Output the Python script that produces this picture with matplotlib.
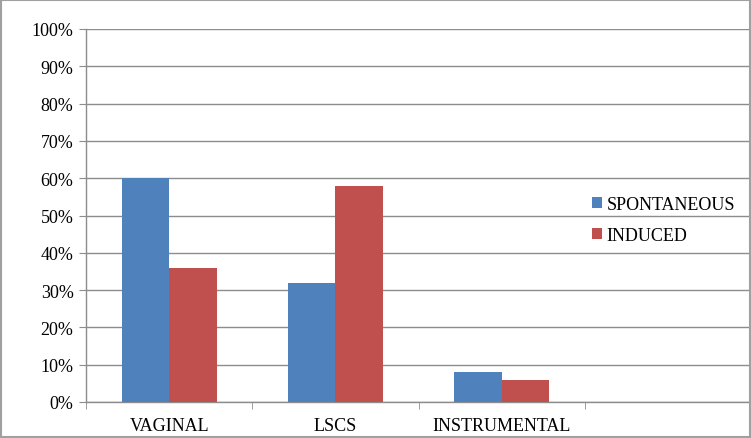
import matplotlib
matplotlib.use("Agg")
import matplotlib.pyplot as plt
from matplotlib.patches import Rectangle
import numpy as np

categories = ["VAGINAL", "LSCS", "INSTRUMENTAL"]
spontaneous = [60, 32, 8]
induced = [36, 58, 6]
series_names = ["SPONTANEOUS", "INDUCED"]
y_ticks = [0, 10, 20, 30, 40, 50, 60, 70, 80, 90, 100]

plt.rcParams['font.family'] = ['Liberation Serif', 'DejaVu Serif']

fig = plt.figure(figsize=(7.51, 4.39), dpi=100)
ax = fig.add_axes([86/751, 1-403/439, 1-86/751, (403-30)/439])

blue = "#4F81BD"
red = "#C0504D"
grid_c = "#8C8C8C"
fs = 13

x = np.arange(len(categories))
w = 0.2857
ax.bar(x - w/2, spontaneous, w, color=blue, label=series_names[0], zorder=3)
ax.bar(x + w/2, induced, w, color=red, label=series_names[1], zorder=3)

ax.set_xlim(-0.5, 3.5)
ax.set_ylim(0, 100)
ax.set_yticks(y_ticks)
ax.set_yticklabels([f"{v}%" for v in y_ticks], fontsize=fs)
ax.yaxis.grid(True, color=grid_c, linewidth=1.0, zorder=0)
ax.set_axisbelow(True)

ax.set_xticks(x)
ax.set_xticklabels(categories, fontsize=fs)
ax.tick_params(axis='x', which='major', length=0, pad=11)
ax.set_xticks(np.arange(-0.5, 3.6, 1.0), minor=True)
ax.tick_params(axis='x', which='minor', length=5, color=grid_c, direction='out')
ax.tick_params(axis='y', length=5, color=grid_c, direction='out', pad=4)

for s in ['top', 'right']:
    ax.spines[s].set_visible(False)
for s in ['left', 'bottom']:
    ax.spines[s].set_color(grid_c)
    ax.spines[s].set_linewidth(1.0)

leg = ax.legend(loc='center left', bbox_to_anchor=((585-86)/665, (403-221)/373),
                frameon=False, fontsize=fs, handlelength=0.55, handleheight=0.55,
                handletextpad=0.25, labelspacing=0.75, borderaxespad=0)

fig.patches.append(Rectangle((0.0015, 0.002), 0.997, 0.996, transform=fig.transFigure,
                             fill=False, edgecolor="#A0A0A0", linewidth=1.5))

fig.savefig("out.png", dpi=100)
